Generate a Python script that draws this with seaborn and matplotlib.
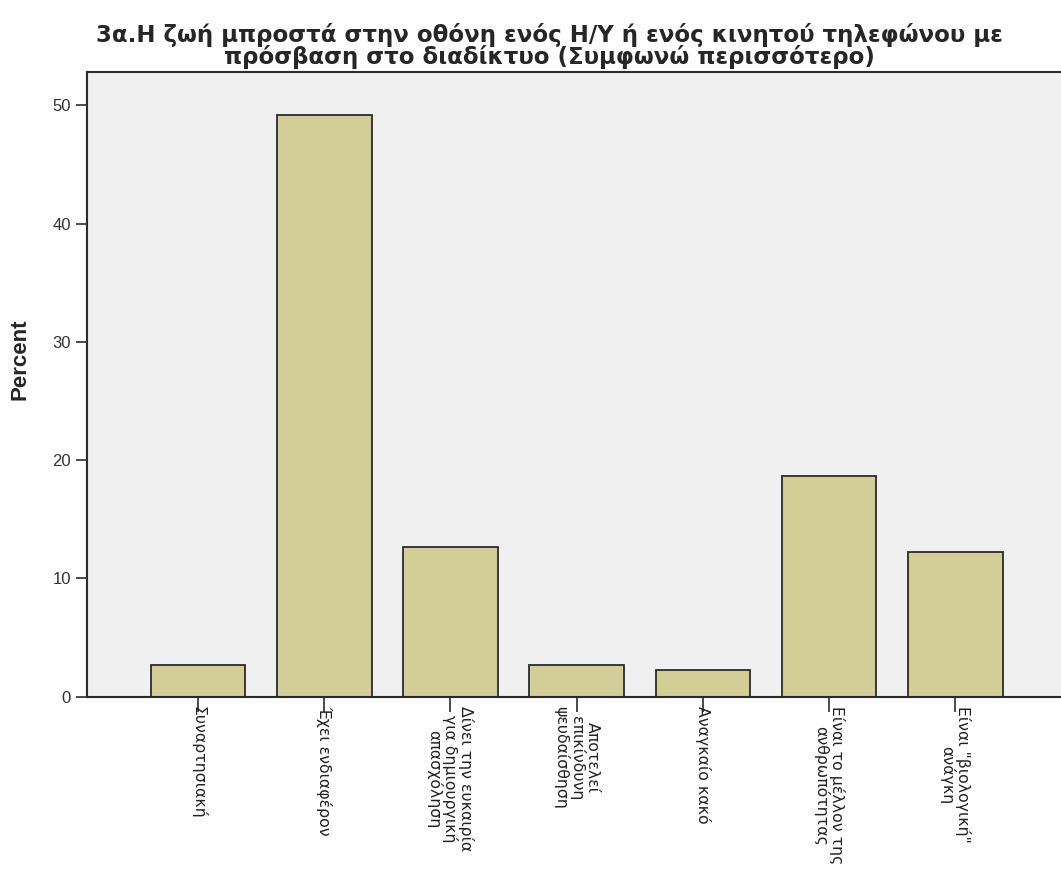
import matplotlib
matplotlib.use("Agg")
import matplotlib.pyplot as plt
import seaborn as sns
import pandas as pd

categories = [
    "Συναρτησιακή",
    "Έχει ενδιαφέρον",
    "Δίνει την ευκαιρία\nγια δημιουργική\nαπασχόληση",
    "Αποτελεί\nεπικίνδυνη\nψευδαίσθηση",
    "Αναγκαίο κακό",
    "Είναι το μέλλον της\nανθρωπότητας",
    "Είναι \"βιολογική\"\nανάγκη",
]
percent = [2.7, 49.2, 12.7, 2.7, 2.3, 18.7, 12.2]

df = pd.DataFrame({"cat": categories, "pct": percent})

sns.set_style("white")
plt.rcParams["font.family"] = ["Liberation Sans", "DejaVu Sans"]

fig = plt.figure(figsize=(10.61, 8.72), dpi=100)
ax = fig.add_axes([0.082, 0.201, 0.923, 0.716])
ax.set_facecolor("#F0F0F0")

sns.barplot(data=df, x="cat", y="pct", ax=ax, color="#D3CE97", saturation=1,
            width=0.75, edgecolor="#2B2B2B", linewidth=1.3)

ax.set_ylim(0, 52.8)
ax.set_xlim(-0.88, len(categories) - 1 + 0.88)
ax.set_yticks([0, 10, 20, 30, 40, 50])
ax.tick_params(axis="y", length=8, width=1.2, color="#2B2B2B", labelsize=12, labelcolor="#333333", left=True)
ax.tick_params(axis="x", length=11, width=1.2, color="#2B2B2B", bottom=True, pad=-4)
ax.set_xticks(range(len(categories)))
ax.set_xticklabels(categories, rotation=-90, ha="center", va="top", fontsize=11.3,
                   family=["DejaVu Sans"], color="#222222", linespacing=1.0)
for s in ax.spines.values():
    s.set_color("#2B2B2B")
    s.set_linewidth(1.5)

ax.set_xlabel("")
ax.set_ylabel("Percent", fontsize=16, fontweight="bold")
ax.yaxis.set_label_coords(-0.058, 0.54)

fig.text(0.518, 0.921,
         "3α.Η ζωή μπροστά στην οθόνη ενός Η/Υ ή ενός κινητού τηλεφώνου με\nπρόσβαση στο διαδίκτυο (Συμφωνώ περισσότερο)",
         ha="center", va="bottom", fontsize=16.5, fontweight="bold", linespacing=0.88,
         family=["DejaVu Sans"])

fig.savefig("out.png", dpi=100)
